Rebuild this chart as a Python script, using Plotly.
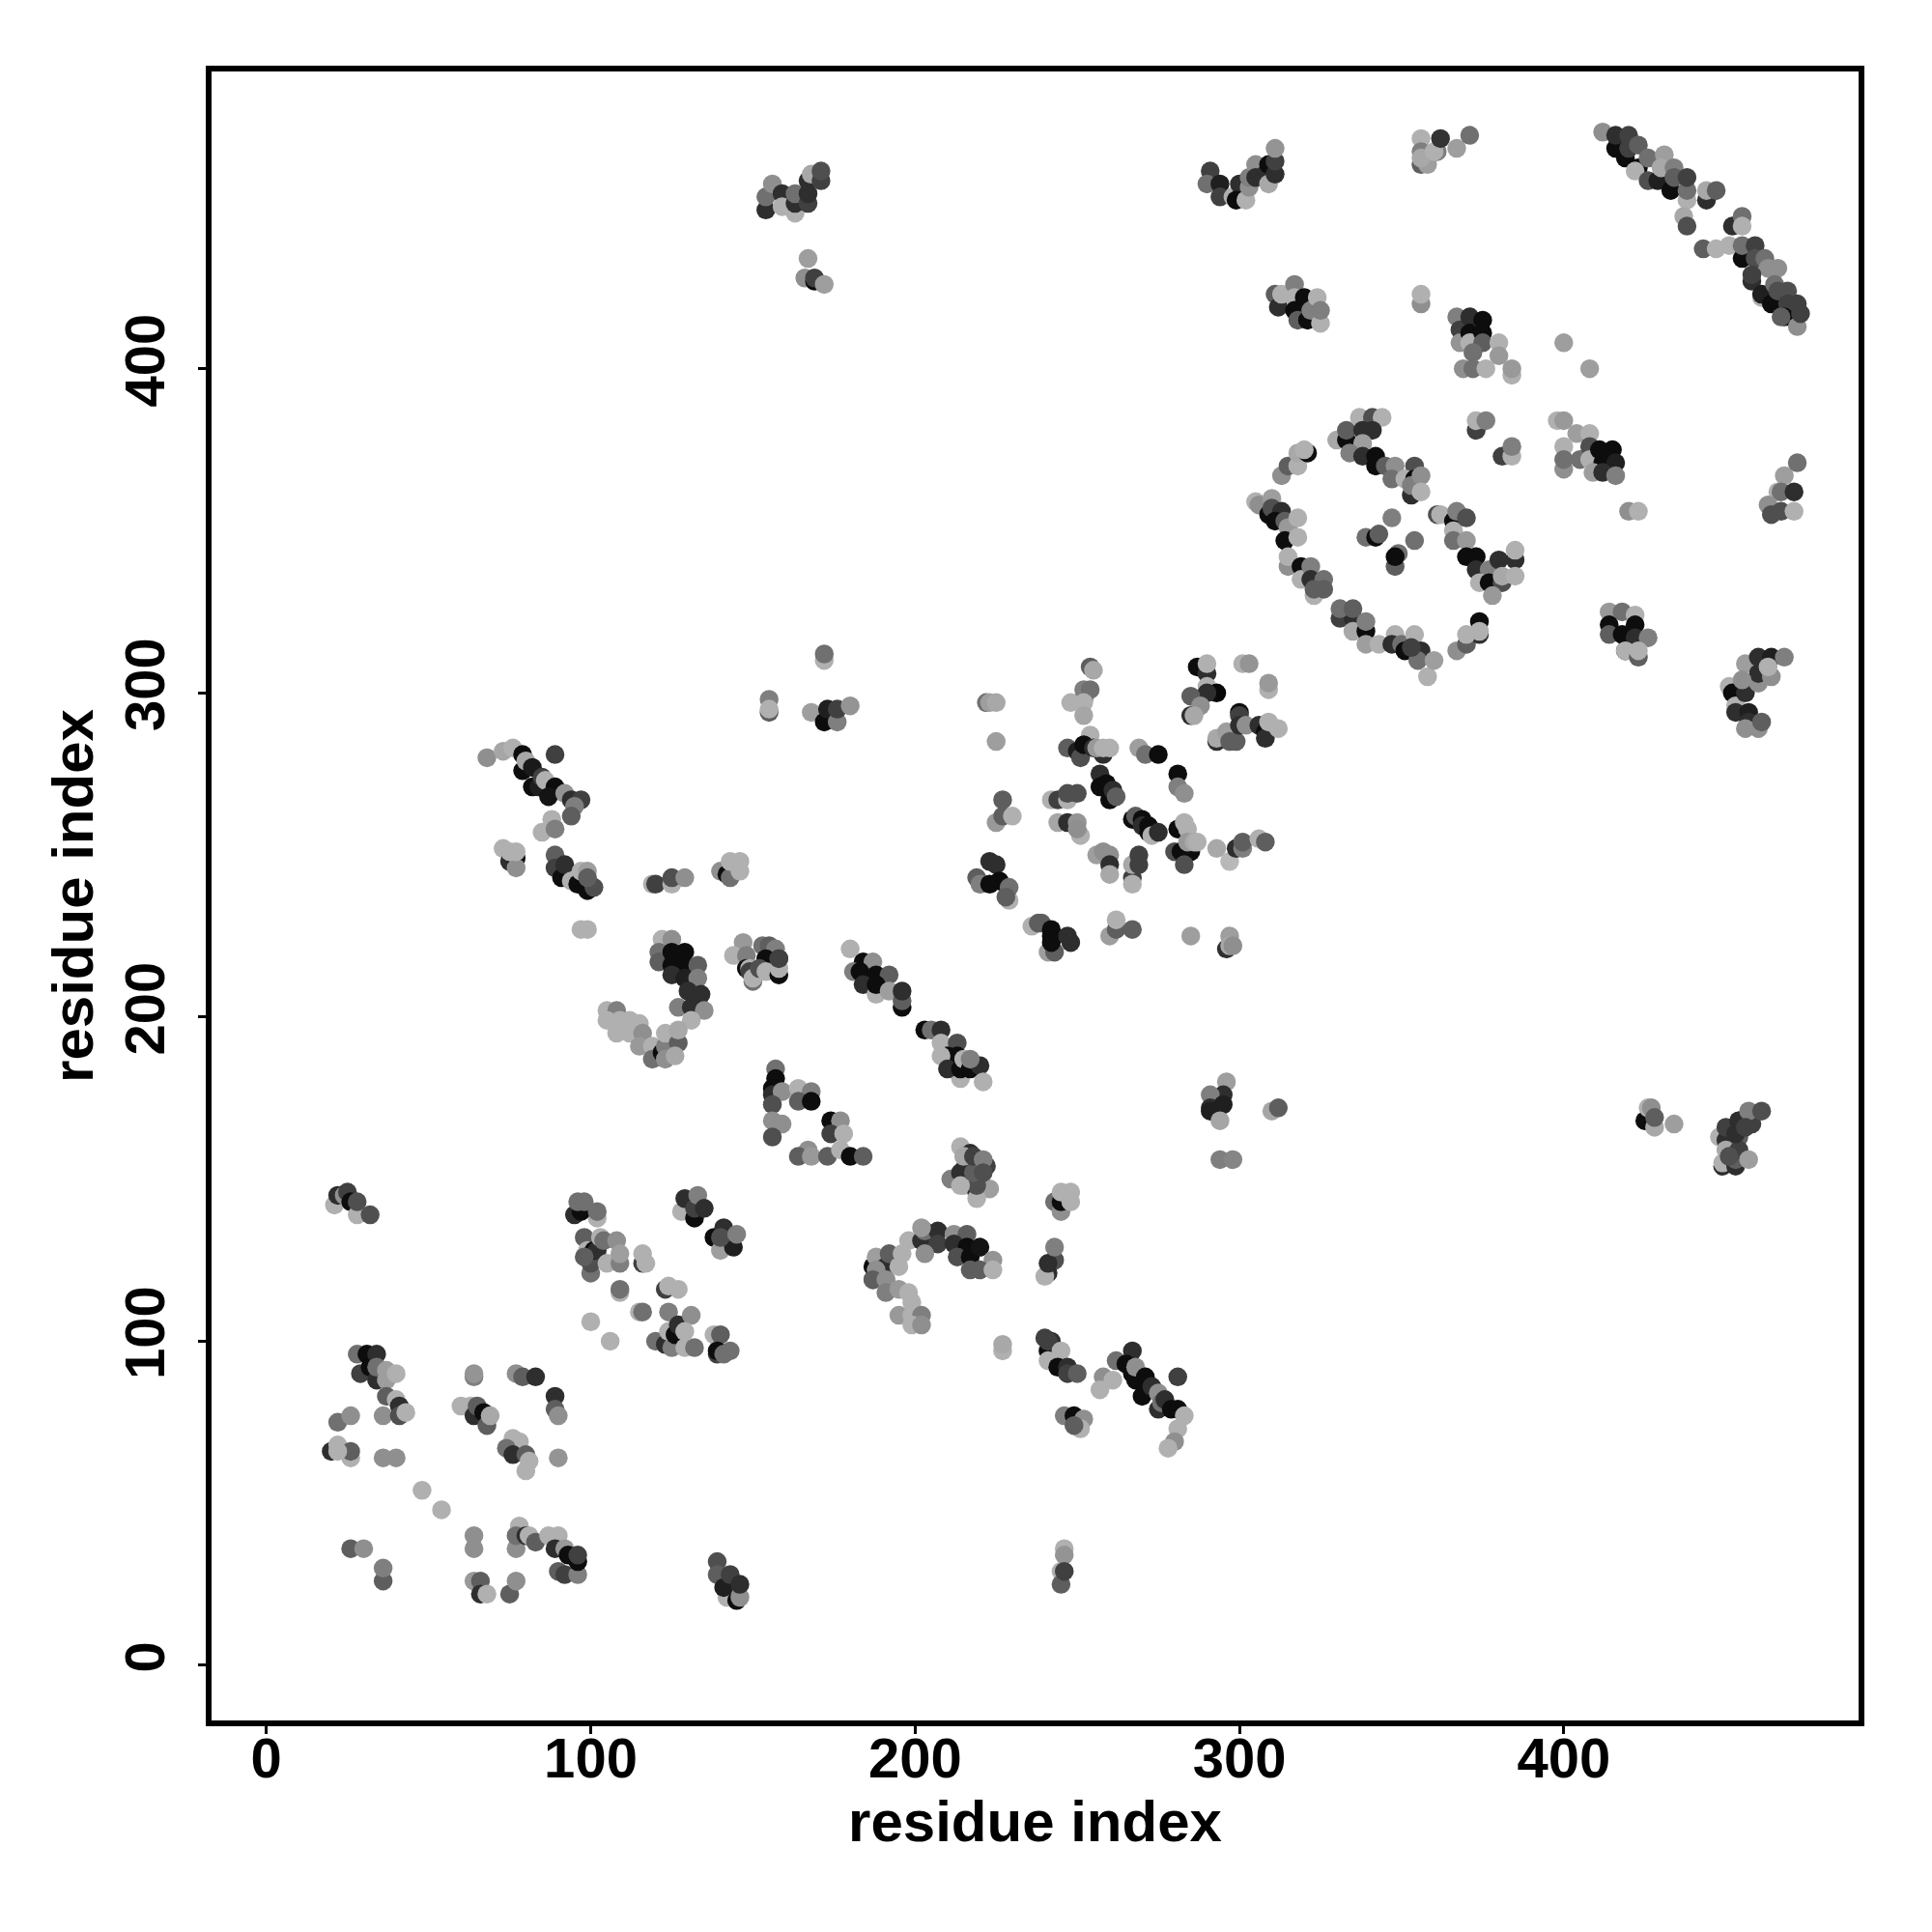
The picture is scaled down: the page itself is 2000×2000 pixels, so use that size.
import plotly.graph_objects as go

# Each block: residue index on x, residue index on y, grey level in percent (0 black .. 100 white)
c01_x = [21, 22, 24, 25, 26, 28, 28, 32]
c01_y = [142, 145, 145, 146, 143, 139, 143, 139]
c01_g = [69, 18, 56, 25, 5, 69, 31, 31]
c02_x = [102, 95, 97, 96, 98, 102]
c02_y = [138, 139, 140, 143, 143, 140]
c02_g = [69, 18, 5, 44, 44, 44]
c03_x = [98, 100, 100, 99, 101, 102, 98, 103, 104, 108, 105, 109, 109]
c03_y = [132, 121, 124, 128, 128, 128, 126, 132, 131, 131, 124, 124, 127]
c03_g = [37, 44, 31, 69, 5, 18, 37, 69, 44, 56, 69, 50, 62]
c04_x = [116, 116, 117, 109, 109, 115, 116, 100, 106]
c04_y = [124, 127, 124, 115, 116, 109, 109, 106, 100]
c04_g = [25, 69, 69, 69, 44, 69, 44, 69, 69]
c05_x = [123, 124, 127, 120, 123, 124, 125, 124, 126, 127, 129, 131, 129, 132]
c05_y = [116, 117, 116, 100, 99, 109, 98, 103, 102, 105, 98, 108, 103, 98]
c05_g = [25, 69, 69, 44, 18, 50, 50, 69, 5, 18, 69, 56, 69, 44]
c06_x = [138, 140, 139, 139, 141, 143]
c06_y = [102, 102, 96, 97, 96, 97]
c06_g = [69, 37, 25, 5, 44, 44]
c07_x = [128, 129, 132, 132, 133, 135, 138, 140, 144, 141, 140, 145]
c07_y = [140, 144, 138, 141, 145, 141, 132, 128, 129, 135, 132, 133]
c07_g = [69, 18, 5, 25, 50, 18, 5, 62, 12, 18, 31, 50]
c08_x = [28, 29, 31, 32, 34, 34, 34, 37, 37, 40, 37, 40, 41, 36, 41, 43]
c08_y = [96, 90, 96, 92, 96, 88, 92, 88, 91, 90, 83, 82, 80, 77, 77, 78]
c08_g = [44, 25, 5, 5, 18, 18, 44, 62, 62, 69, 37, 69, 18, 56, 31, 69]
c09_x = [22, 26, 20, 22, 26, 26, 22, 36, 40, 48, 54]
c09_y = [75, 77, 66, 68, 64, 66, 66, 64, 64, 54, 48]
c09_g = [44, 56, 18, 69, 69, 37, 69, 56, 56, 69, 69]
c10_x = [64, 64, 77, 79, 83, 89, 89, 90]
c10_y = [89, 90, 90, 89, 89, 83, 79, 77]
c10_g = [50, 58, 56, 37, 18, 18, 37, 56]
c11_x = [60, 63, 64, 65, 67, 68, 69]
c11_y = [80, 80, 77, 80, 78, 74, 77]
c11_g = [69, 69, 18, 37, 5, 37, 66]
c12_x = [76, 78, 74, 76, 80, 80, 81, 90]
c12_y = [70, 69, 67, 65, 65, 60, 63, 64]
c12_g = [69, 69, 44, 18, 37, 69, 69, 58]
c13_x = [26, 30, 36, 36, 64, 64, 64, 66, 66, 68, 75, 77]
c13_y = [36, 36, 26, 30, 40, 36, 26, 26, 22, 22, 22, 26]
c13_g = [37, 56, 37, 50, 56, 56, 60, 37, 18, 69, 37, 56]
c14_x = [77, 78, 77, 80, 81, 83, 87, 90, 89, 90, 92, 92, 93, 96, 96, 96]
c14_y = [36, 43, 40, 40, 40, 38, 40, 40, 36, 29, 36, 28, 34, 28, 32, 34]
c14_g = [56, 69, 44, 18, 69, 37, 69, 69, 18, 37, 60, 25, 5, 50, 5, 25]
c15_x = [139, 139, 142, 141, 143, 145, 146, 146]
c15_y = [32, 28, 21, 24, 28, 20, 21, 25]
c15_g = [31, 37, 69, 12, 25, 5, 56, 18]
c16_x = [211, 215, 215, 219, 223, 219, 219, 214, 214, 214, 217, 218, 222, 215, 218, 221, 221]
c16_y = [150, 148, 153, 146, 147, 144, 148, 160, 152, 148, 158, 152, 154, 157, 157, 156, 152]
c16_g = [50, 69, 18, 18, 62, 69, 31, 69, 18, 69, 18, 37, 25, 65, 25, 50, 31]
c17_x = [243, 245, 245, 245, 248, 248]
c17_y = [143, 140, 143, 146, 146, 143]
c17_g = [44, 56, 5, 69, 69, 69]
c18_x = [198, 202, 203, 207, 212, 216, 202, 207, 212, 216, 213, 217, 220, 224, 203, 217, 220, 224]
c18_y = [131, 131, 134, 134, 133, 133, 135, 130, 130, 129, 126, 126, 129, 125, 127, 122, 122, 122]
c18_g = [69, 18, 44, 18, 56, 37, 60, 25, 18, 5, 31, 5, 8, 58, 56, 37, 37, 69]
c19_x = [187, 187, 191, 188, 191, 188, 192, 195, 196, 187, 191, 191, 195, 198, 199, 195, 199, 202, 199, 202]
c19_y = [119, 123, 119, 126, 123, 122, 127, 123, 127, 119, 119, 115, 116, 115, 112, 108, 108, 108, 105, 105]
c19_g = [37, 5, 56, 62, 18, 56, 37, 69, 69, 37, 56, 50, 60, 69, 69, 60, 69, 50, 69, 56]
c20_x = [243, 243, 241, 240, 241, 243, 227, 227]
c20_y = [125, 125, 121, 120, 124, 129, 97, 99]
c20_g = [69, 31, 18, 69, 18, 50, 69, 66]
c21_x = [240, 241, 242, 241, 241, 245, 244, 247, 247, 250]
c21_y = [101, 97, 100, 94, 100, 97, 92, 92, 90, 90]
c21_g = [25, 5, 18, 69, 25, 69, 5, 18, 25, 37]
c22_x = [246, 249, 252, 251, 249, 262, 267, 258, 261, 257]
c22_y = [77, 77, 76, 73, 74, 94, 97, 89, 88, 85]
c22_g = [50, 5, 56, 69, 37, 44, 18, 56, 69, 69]
c23_x = [265, 267, 268, 268, 270, 271, 272, 273, 275, 275, 276, 277, 279, 281, 281, 281, 280, 278, 283]
c23_y = [93, 90, 88, 92, 83, 89, 85, 86, 79, 84, 81, 82, 79, 89, 79, 73, 69, 67, 77]
c23_g = [5, 5, 5, 56, 5, 5, 5, 18, 18, 56, 44, 18, 5, 25, 5, 69, 56, 69, 69]
c24_x = [245, 245, 246, 246, 246]
c24_y = [29, 25, 36, 34, 29]
c24_g = [69, 37, 69, 58, 25]
c25_x = [68, 73, 76, 79, 89, 79, 80, 82, 82, 84, 85, 86, 89, 87, 92, 94, 97, 95, 94]
c25_y = [280, 282, 283, 281, 281, 276, 279, 277, 271, 271, 274, 273, 271, 268, 269, 267, 267, 265, 262]
c25_g = [56, 65, 69, 5, 25, 5, 66, 10, 5, 12, 25, 69, 5, 8, 58, 18, 25, 50, 37]
c26_x = [88, 85, 89, 73, 75, 77, 77, 77, 75]
c26_y = [261, 257, 258, 252, 248, 249, 246, 251, 251]
c26_g = [69, 69, 50, 69, 18, 5, 56, 69, 69]
c27_x = [89, 89, 91, 92, 94, 96, 97, 99, 99, 101, 97, 99]
c27_y = [250, 246, 243, 247, 242, 241, 245, 245, 239, 240, 227, 227]
c27_g = [37, 25, 5, 18, 69, 5, 69, 62, 5, 31, 69, 69]
c27b_x = [99]
c27b_y = [243]
c27b_g = [37]
c28_x = [119, 120, 125, 125, 129, 140, 142, 143, 143, 146, 146]
c28_y = [241, 241, 241, 243, 243, 245, 244, 243, 248, 248, 245]
c28_g = [69, 25, 69, 31, 56, 56, 5, 44, 69, 69, 69]
c29_x = [122, 125, 121, 121, 125, 129, 125, 129, 133, 125, 129, 133, 130, 134, 127, 131, 135, 131]
c29_y = [224, 224, 220, 217, 220, 220, 216, 216, 216, 213, 212, 212, 208, 207, 203, 203, 202, 199]
c29_g = [69, 56, 44, 37, 5, 5, 5, 5, 37, 18, 12, 50, 18, 18, 50, 18, 56, 69]
c30_x = [105, 108, 105, 109, 112, 115, 108, 112, 116, 115, 119, 119, 122, 123, 123, 123, 127, 126, 127]
c30_y = [202, 202, 199, 199, 199, 198, 195, 195, 195, 191, 191, 187, 189, 191, 187, 195, 192, 188, 196]
c30_g = [69, 50, 69, 69, 69, 69, 69, 69, 56, 60, 69, 44, 5, 50, 56, 69, 37, 66, 66]
c31_x = [147, 144, 148, 148, 153, 155, 157, 154, 158, 149, 149, 150, 150, 152, 154, 158, 158, 158]
c31_y = [223, 219, 219, 215, 222, 222, 221, 218, 218, 215, 214, 211, 212, 215, 214, 213, 215, 218]
c31_g = [60, 69, 50, 5, 44, 37, 50, 5, 25, 69, 25, 44, 69, 31, 69, 5, 69, 25]
c32_x = [180, 184, 187, 181, 183, 188, 192, 184, 188, 188, 192, 196, 196, 196]
c32_y = [221, 217, 217, 214, 214, 213, 213, 210, 207, 210, 208, 203, 205, 208]
c32_g = [69, 5, 56, 50, 5, 5, 37, 18, 69, 5, 62, 5, 37, 18]
c33_x = [203, 205, 208, 208, 213, 210, 213, 208, 214, 210, 214, 215, 217, 220, 221, 217]
c33_y = [196, 196, 196, 192, 192, 188, 188, 188, 181, 184, 184, 187, 184, 185, 180, 187]
c33_g = [5, 44, 18, 69, 31, 5, 5, 69, 69, 18, 5, 69, 5, 18, 69, 50]
c34_x = [157, 157, 156, 156, 159, 156, 156, 159, 156]
c34_y = [184, 181, 178, 176, 177, 173, 168, 167, 163]
c34_g = [44, 5, 5, 18, 56, 31, 56, 56, 31]
c35_x = [164, 168, 164, 168, 174, 177, 174, 178, 167, 164, 168, 173, 177, 180, 184]
c35_y = [178, 177, 174, 174, 168, 168, 164, 164, 159, 157, 157, 157, 159, 157, 157]
c35_g = [69, 50, 37, 5, 5, 56, 25, 69, 56, 37, 60, 37, 69, 5, 37]
c36_x = [155, 155, 155, 168, 172, 173, 176, 176, 180, 172, 172]
c36_y = [294, 298, 295, 294, 291, 295, 291, 295, 296, 310, 312]
c36_g = [37, 50, 69, 62, 5, 12, 50, 25, 58, 69, 44]
c37_x = [222, 223, 225, 225, 254, 255, 252, 252, 254, 248, 252, 252]
c37_y = [297, 297, 297, 285, 308, 307, 298, 301, 301, 297, 297, 293]
c37_g = [44, 62, 66, 62, 37, 66, 18, 50, 44, 69, 69, 65]
c38_x = [247, 250, 251, 254, 252, 255, 258, 256, 258, 260]
c38_y = [283, 282, 280, 287, 284, 283, 281, 283, 283, 283]
c38_g = [37, 12, 31, 69, 5, 18, 18, 60, 69, 69]
c39_x = [269, 271, 275, 281, 281, 283, 257, 257, 259, 260, 261, 262]
c39_y = [283, 281, 281, 275, 271, 269, 275, 271, 272, 267, 270, 268]
c39_g = [62, 44, 5, 5, 50, 56, 18, 5, 5, 5, 18, 37]
c40_x = [225, 227, 227, 230, 242, 244, 247, 250, 247, 244, 247, 250, 251, 250]
c40_y = [260, 267, 262, 262, 267, 267, 267, 269, 269, 260, 260, 260, 256, 258]
c40_g = [60, 37, 37, 69, 69, 25, 69, 31, 31, 65, 18, 58, 69, 56]
c41_x = [267, 268, 270, 270, 272, 272, 273, 275]
c41_y = [261, 262, 261, 259, 259, 257, 256, 257]
c41_g = [5, 37, 5, 18, 5, 5, 69, 18]
c42_x = [280, 282, 285, 283, 281, 283, 284, 284, 286, 287]
c42_y = [251, 251, 251, 247, 258, 260, 258, 254, 254, 254]
c42_g = [31, 5, 5, 31, 5, 69, 69, 60, 66, 69]
c43_x = [256, 258, 260, 260, 260, 267, 267, 269, 269, 267]
c43_y = [250, 251, 250, 247, 244, 243, 247, 247, 250, 241]
c43_g = [62, 56, 56, 18, 66, 25, 66, 25, 25, 69]
c44_x = [293, 297, 299, 301, 301, 306, 308]
c44_y = [252, 248, 252, 252, 254, 255, 254]
c44_g = [66, 72, 18, 50, 37, 69, 37]
c45_x = [293, 293, 296, 297, 299, 300, 300, 300, 302, 306, 308, 308, 309, 312]
c45_y = [285, 286, 288, 285, 285, 294, 293, 290, 290, 290, 288, 286, 291, 289]
c45_g = [18, 66, 62, 37, 37, 5, 25, 18, 56, 18, 5, 18, 69, 69]
c46_x = [287, 290, 290, 290, 293, 290, 285, 288, 285, 286, 301, 303, 309, 309]
c46_y = [308, 306, 309, 302, 300, 300, 299, 296, 293, 293, 309, 309, 301, 303]
c46_g = [5, 18, 69, 69, 3, 18, 37, 56, 18, 66, 69, 58, 69, 60]
c47_x = [219, 220, 223, 225, 226, 223, 229, 229, 228]
c47_y = [243, 241, 248, 247, 242, 241, 236, 240, 237]
c47_g = [37, 50, 18, 18, 5, 5, 69, 44, 37]
c48_x = [236, 238, 239, 242, 242, 241, 243, 242, 247, 248]
c48_y = [228, 229, 229, 227, 225, 220, 220, 223, 225, 223]
c48_g = [69, 37, 37, 5, 5, 62, 37, 5, 18, 18]
c49_x = [260, 262, 262, 267, 285, 296, 297, 297, 298]
c49_y = [225, 227, 230, 227, 225, 221, 225, 222, 222]
c49_g = [62, 37, 69, 37, 62, 18, 62, 66, 56]
c50_x = [296, 295, 291, 291, 291, 295, 294, 310, 312, 294, 298]
c50_y = [180, 176, 176, 172, 171, 173, 168, 171, 172, 156, 156]
c50_g = [62, 18, 50, 18, 12, 12, 65, 65, 37, 50, 52]
c51_x = [311, 312, 313, 317, 317, 317, 318, 320, 321, 322, 324, 325, 325]
c51_y = [423, 419, 423, 426, 422, 418, 415, 422, 415, 418, 422, 414, 418]
c51_g = [37, 18, 69, 50, 69, 5, 37, 5, 5, 50, 69, 69, 50]
c52_x = [356, 356, 367, 368, 368, 371, 371, 371, 375, 375, 375, 380, 372, 380]
c52_y = [420, 423, 416, 412, 408, 416, 411, 408, 415, 411, 408, 408, 405, 404]
c52_g = [56, 69, 50, 25, 58, 18, 5, 69, 5, 5, 37, 69, 44, 60]
c53_x = [369, 372, 376, 384, 384, 400, 408]
c53_y = [400, 400, 400, 398, 400, 408, 400]
c53_g = [56, 44, 69, 69, 60, 62, 62]
c54_x = [373, 373, 376, 381, 384, 384]
c54_y = [381, 384, 384, 373, 373, 376]
c54_g = [25, 69, 50, 25, 69, 50]
c55_x = [398, 400, 404, 408, 400, 400, 400, 405, 408, 408, 411, 412, 415, 416, 409, 412, 416]
c55_y = [384, 384, 380, 380, 376, 369, 372, 372, 376, 372, 375, 371, 375, 371, 368, 368, 367]
c55_g = [69, 60, 62, 69, 69, 56, 44, 44, 31, 69, 5, 5, 5, 12, 62, 18, 50]
c56_x = [420, 423, 414, 418, 414, 414, 418, 422, 422, 422, 426, 419, 419, 423, 423]
c56_y = [356, 356, 325, 325, 321, 318, 318, 324, 321, 317, 317, 313, 313, 311, 313]
c56_g = [56, 69, 60, 44, 5, 37, 5, 69, 5, 18, 50, 18, 69, 37, 69]
c57_x = [330, 333, 333, 337, 341, 344, 338, 341, 338, 334, 338, 342, 342, 345, 348, 347]
c57_y = [378, 378, 381, 385, 385, 385, 381, 381, 377, 374, 373, 373, 370, 370, 370, 366]
c57_g = [66, 5, 37, 69, 31, 69, 18, 18, 62, 50, 18, 5, 5, 37, 56, 44]
c58_x = [353, 354, 351, 354, 353, 356, 356]
c58_y = [361, 370, 366, 366, 364, 367, 362]
c58_g = [18, 31, 69, 5, 50, 56, 69]
c59_x = [313, 315, 318, 318, 321, 320]
c59_y = [367, 370, 370, 374, 374, 375]
c59_g = [56, 37, 69, 66, 5, 69]
c60_x = [305, 306, 310, 309, 310, 313, 311, 314, 315, 318, 314, 318]
c60_y = [359, 358, 360, 355, 357, 356, 353, 353, 351, 354, 347, 348]
c60_g = [69, 56, 62, 5, 31, 18, 5, 37, 60, 69, 5, 69]
c61_x = [315, 315, 319, 319, 322, 322, 326, 323, 326, 323]
c61_y = [339, 342, 339, 335, 339, 335, 335, 330, 332, 332]
c61_g = [56, 69, 5, 69, 50, 18, 44, 69, 37, 37]
c62_x = [347, 339, 342, 343, 354, 348, 349, 348]
c62_y = [354, 348, 348, 349, 347, 339, 343, 342]
c62_g = [50, 44, 5, 37, 44, 37, 44, 5]
c63_x = [361, 362, 366, 366, 367, 370, 366, 370]
c63_y = [355, 355, 353, 350, 356, 354, 347, 347]
c63_g = [31, 69, 5, 69, 50, 31, 44, 60]
c64_x = [370, 373, 373, 377, 374, 380, 385, 385, 377, 381, 381, 385, 378]
c64_y = [342, 342, 338, 338, 334, 341, 341, 344, 334, 334, 336, 336, 330]
c64_g = [5, 5, 18, 50, 69, 18, 18, 69, 5, 31, 66, 69, 60]
c65_x = [331, 335, 331, 335, 335, 339, 339, 339, 343]
c65_y = [323, 323, 326, 326, 319, 319, 322, 315, 315]
c65_g = [25, 18, 44, 37, 66, 5, 50, 62, 69]
c66_x = [348, 347, 350, 351, 354, 356, 355, 358, 360, 353]
c66_y = [318, 315, 315, 313, 318, 313, 310, 305, 310, 314]
c66_g = [69, 18, 44, 5, 69, 18, 44, 69, 62, 25]
c67_x = [367, 370, 374, 370, 374, 374]
c67_y = [313, 315, 318, 318, 322, 319]
c67_g = [56, 37, 18, 69, 5, 69]
c68_x = [356, 356, 356, 358, 356, 361, 360, 367, 362, 371]
c68_y = [471, 463, 467, 463, 465, 467, 467, 468, 471, 472]
c68_g = [69, 37, 50, 62, 66, 50, 69, 62, 20, 44]
c69_x = [412, 416, 416, 419, 420, 420, 423, 423, 422, 426, 431, 426, 429, 430, 434]
c69_y = [473, 468, 472, 465, 468, 472, 462, 469, 461, 465, 466, 458, 458, 462, 462]
c69_g = [56, 5, 18, 5, 25, 25, 5, 37, 69, 44, 62, 31, 12, 66, 50]
c70_x = [433, 434, 438, 438, 438, 444, 444, 447, 437, 438]
c70_y = [455, 459, 452, 455, 459, 452, 455, 455, 447, 444]
c70_g = [5, 37, 69, 44, 25, 18, 66, 37, 66, 31]
c71_x = [452, 455, 455, 443, 447, 451, 455, 455, 459, 459, 462, 463, 466]
c71_y = [444, 447, 444, 437, 437, 438, 434, 438, 438, 434, 434, 431, 431]
c71_g = [18, 44, 69, 37, 69, 69, 5, 44, 25, 31, 44, 56, 56]
c72_x = [458, 458, 461, 461, 465, 464, 466, 469, 469, 472, 468, 467, 472, 473]
c72_y = [427, 429, 422, 423, 426, 420, 424, 424, 420, 420, 416, 416, 413, 417]
c72_g = [18, 25, 69, 12, 44, 5, 31, 31, 25, 25, 5, 37, 56, 25]
c73_x = [468, 472, 466, 467, 471, 463, 464, 467, 471]
c73_y = [367, 371, 362, 362, 362, 358, 355, 356, 356]
c73_g = [62, 44, 69, 44, 18, 56, 31, 31, 69]
c74_x = [456, 451, 452, 453, 453, 456, 457, 457, 456, 460, 461, 460, 460, 455, 460, 464, 464, 463, 468]
c74_y = [309, 302, 300, 296, 294, 300, 294, 291, 289, 289, 291, 303, 306, 304, 311, 311, 305, 308, 311]
c74_g = [62, 69, 5, 69, 18, 18, 12, 18, 56, 56, 37, 56, 18, 56, 18, 12, 56, 69, 50]
c75_x = [425, 426, 427, 428, 428, 434]
c75_y = [168, 172, 172, 166, 169, 167]
c75_g = [5, 69, 56, 66, 37, 62]
c76_x = [448, 449, 449, 453, 450, 450, 450, 453, 454, 454, 454, 457, 454, 458, 457, 461, 453, 456, 451]
c76_y = [163, 154, 155, 154, 162, 159, 166, 156, 163, 159, 168, 156, 168, 167, 171, 171, 164, 166, 157]
c76_g = [69, 18, 69, 18, 18, 66, 25, 37, 37, 25, 18, 62, 18, 25, 50, 31, 18, 25, 31]
c77_x = [154, 154, 156, 159, 159, 163, 163, 163, 167, 167, 167, 168, 171, 171]
c77_y = [449, 453, 457, 454, 450, 448, 451, 454, 451, 454, 458, 460, 458, 461]
c77_g = [18, 44, 56, 18, 69, 69, 18, 44, 25, 18, 18, 66, 25, 31]
c78_x = [167, 166, 169, 169, 172]
c78_y = [434, 428, 427, 428, 426]
c78_g = [62, 56, 5, 25, 62]
c79_x = [291, 290, 294, 294, 298, 300, 299, 302, 303, 303]
c79_y = [461, 457, 457, 453, 453, 457, 452, 452, 456, 459]
c79_g = [25, 44, 12, 25, 69, 18, 5, 69, 56, 50]
c80_x = [305, 305, 308, 309, 309, 311, 311, 311]
c80_y = [463, 459, 460, 457, 463, 460, 464, 468]
c80_g = [56, 18, 18, 66, 5, 18, 25, 58]

tick_values = [0, 100, 200, 300, 400]
axis_label = "residue index"

names = [k[:-2] for k in list(globals()) if k.startswith("c") and k.endswith("_x")]
x_all, y_all, colors = [], [], []
for n in names:
    xs, ys, gs = globals()[n + "_x"], globals()[n + "_y"], globals()[n + "_g"]
    if not (len(xs) == len(ys) == len(gs)):
        print("length mismatch", n, len(xs), len(ys), len(gs))
    for x, y, g in zip(xs, ys, gs):
        v = round(g * 2.55)
        x_all.append(x); y_all.append(y); colors.append(f"rgb({v},{v},{v})")

fig = go.Figure(go.Scatter(
    x=x_all, y=y_all, mode="markers",
    marker=dict(size=19.5, color=colors, line=dict(width=0)),
    showlegend=False, hoverinfo="x+y",
))
FONT = "Liberation Sans"
common = dict(
    tickmode="array", tickvals=tick_values, ticktext=[str(t) for t in tick_values],
    showgrid=False, zeroline=False, showline=True, linecolor="black", linewidth=5.5,
    mirror=True, ticks="outside", ticklen=8, tickwidth=3, tickcolor="black",
    tickfont=dict(family=FONT, size=58, color="black", weight="bold"),
)
title_font = dict(family=FONT, size=60, color="black", weight="bold")
fig.update_xaxes(range=[-16.9, 490.9], ticklabelstandoff=-24,
                 title=dict(text=axis_label, standoff=13, font=title_font), **common)
fig.update_yaxes(range=[-17.0, 491.7], tickangle=-90, ticklabelstandoff=12,
                 title=dict(text=axis_label, standoff=3, font=title_font), **common)
fig.update_layout(
    width=2000, height=2000, autosize=False,
    margin=dict(l=211.2, r=83.8, t=65.9, b=226.5, autoexpand=False),
    paper_bgcolor="white", plot_bgcolor="white",
)
fig.write_html("out.html")
